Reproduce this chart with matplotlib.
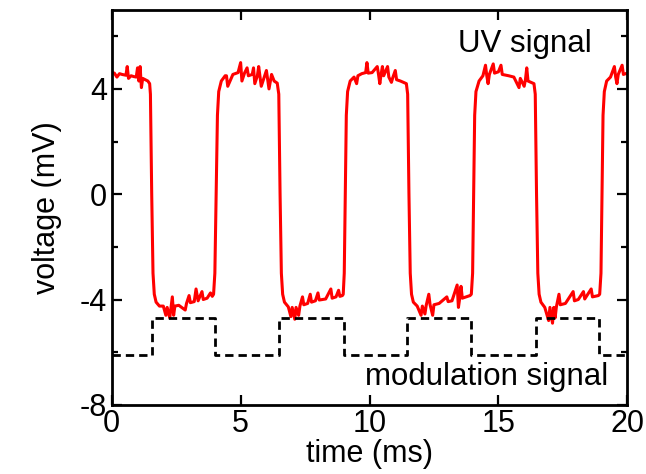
import numpy as np
import matplotlib.pyplot as plt
from matplotlib.ticker import MultipleLocator

plt.rcParams['font.family'] = ['Liberation Sans', 'DejaVu Sans']
plt.rcParams['axes.unicode_minus'] = False

# UV signal (time in ms, voltage in mV)
uv_t = [0, 0.1, 0.2, 0.3, 0.4, 0.55, 0.6, 0.65, 0.75, 0.85, 0.95, 1.0, 1.05, 1.1, 1.15, 1.2, 1.3, 1.4, 1.47,
        1.5, 1.55, 1.6, 1.65, 1.72, 1.85,
        2.0, 2.1, 2.15, 2.25, 2.3, 2.35, 2.4, 2.45, 2.6, 2.85, 2.9, 3.0, 3.05, 3.2, 3.27, 3.35, 3.5, 3.55, 3.7, 3.83, 3.9,
        3.95, 4.0, 4.05, 4.1, 4.15, 4.25, 4.4,
        4.45, 4.5, 4.7, 4.9, 5.0, 5.05, 5.15, 5.25, 5.3, 5.45, 5.5, 5.55, 5.65, 5.7, 5.8, 5.9, 6.0, 6.1, 6.2, 6.3, 6.42,
        6.48, 6.53, 6.58, 6.63, 6.7, 6.85,
        6.95, 7.0, 7.1, 7.15, 7.25, 7.3, 7.4, 7.45, 7.6, 7.7, 7.75, 7.9, 8.0, 8.05, 8.3, 8.5, 8.55, 8.7, 8.8, 8.85, 8.95,
        8.98, 9.02, 9.06, 9.1, 9.15, 9.25, 9.4,
        9.5, 9.55, 9.7, 9.85, 9.9, 9.95, 10.1, 10.3, 10.35, 10.4, 10.45, 10.5, 10.55, 10.7, 10.75, 10.85, 10.9, 11.0, 11.05, 11.2, 11.43,
        11.48, 11.53, 11.58, 11.63, 11.7, 11.85,
        12.0, 12.05, 12.15, 12.2, 12.3, 12.35, 12.45, 12.5, 12.7, 13.0, 13.05, 13.2, 13.4, 13.45, 13.5, 13.55, 13.6, 13.75, 13.9,
        13.95, 14.0, 14.04, 14.08, 14.13, 14.25, 14.4,
        14.5, 14.55, 14.6, 14.65, 14.8, 14.85, 15.0, 15.1, 15.15, 15.4, 15.6, 15.8, 15.85, 16.0, 16.05, 16.1, 16.15, 16.38,
        16.43, 16.48, 16.53, 16.58, 16.65, 16.8,
        16.95, 17.0, 17.1, 17.15, 17.2, 17.25, 17.35, 17.4, 17.6, 17.9, 17.95, 18.1, 18.3, 18.35, 18.6, 18.65, 18.88,
        18.93, 18.98, 19.02, 19.06, 19.11, 19.2, 19.35,
        19.5, 19.55, 19.6, 19.65, 19.8, 19.85, 20.0]
uv_v = [4.62, 4.6, 4.45, 4.58, 4.55, 4.52, 4.85, 4.4, 4.5, 4.47, 4.45, 4.8, 4.3, 4.85, 4.05, 4.4, 4.35, 4.3, 4.2,
        3.8, 0.0, -3.0, -3.8, -4.1, -4.25,
        -4.25, -4.6, -4.3, -4.7, -4.3, -3.9, -4.6, -4.25, -4.22, -4.4, -4.15, -3.85, -4.12, -4.08, -3.6, -4.05, -3.7, -4.0, -3.95, -3.75, -3.88,
        -3.8, -3.0, 0.0, 3.0, 3.9, 4.3, 4.5,
        4.5, 4.1, 4.55, 4.62, 5.0, 4.3, 4.6, 4.8, 4.5, 4.55, 4.8, 4.2, 4.5, 4.85, 4.1, 4.4, 4.7, 4.0, 4.55, 4.3, 4.22,
        3.8, 0.0, -3.0, -3.8, -4.1, -4.28,
        -4.65, -4.3, -4.75, -4.3, -4.6, -4.25, -3.9, -4.2, -4.15, -3.8, -4.1, -4.05, -3.75, -4.02, -3.98, -3.6, -3.95, -3.9, -3.65, -3.88, -3.85,
        -3.8, -3.0, 0.0, 3.0, 3.9, 4.3, 4.45,
        4.2, 4.5, 4.58, 4.62, 5.0, 4.6, 4.62, 4.85, 4.55, 4.2, 4.55, 4.85, 4.5, 4.85, 4.45, 4.25, 4.42, 4.7, 4.35, 4.3, 4.2,
        3.8, 0.0, -3.0, -3.8, -4.1, -4.25,
        -4.6, -4.25, -4.55, -4.22, -3.8, -4.2, -4.6, -4.2, -4.15, -3.9, -4.08, -4.05, -3.45, -4.3, -3.95, -3.5, -3.95, -3.9, -3.85,
        -3.8, -3.0, 0.0, 3.0, 3.9, 4.3, 4.5,
        4.9, 4.5, 4.2, 4.55, 4.95, 4.6, 4.65, 4.9, 4.55, 4.5, 4.45, 4.05, 4.4, 4.1, 4.35, 4.8, 4.3, 4.2,
        3.8, 0.0, -3.0, -3.8, -4.1, -4.3,
        -4.8, -4.3, -4.9, -4.3, -4.7, -4.28, -3.8, -4.2, -4.15, -3.7, -4.05, -4.0, -3.7, -3.98, -3.6, -3.9, -3.85,
        -3.8, -3.0, 0.0, 3.0, 3.9, 4.3, 4.45,
        4.85, 4.45, 4.2, 4.55, 4.9, 4.55, 4.6]

# modulation signal (dashed square wave)
mod_edges = [1.55, 4.0, 6.5, 9.0, 11.45, 13.95, 16.45, 18.9]
mod_low = -6.1
mod_high = -4.7

mod_t = [0]
mod_v = [mod_low]
level = mod_low
for e in mod_edges:
    mod_t += [e, e]
    nxt = mod_high if level == mod_low else mod_low
    mod_v += [level, nxt]
    level = nxt
mod_t.append(20)
mod_v.append(level)

fig = plt.figure(figsize=(6.46, 4.74), dpi=100)
ax = fig.add_axes([0.173, 0.146, 0.798, 0.833])

ax.plot(uv_t, uv_v, color='#ff0000', lw=2.2)
ax.plot(mod_t, mod_v, color='black', lw=2.0, ls=(0, (3.0, 1.8)))

ax.set_xlim(0, 20)
ax.set_ylim(-8, 7)
ax.xaxis.set_major_locator(MultipleLocator(5))
ax.yaxis.set_major_locator(MultipleLocator(4))
ax.yaxis.set_minor_locator(MultipleLocator(2))

ax.tick_params(which='both', direction='in', top=True, right=True, labelsize=22, width=1.6)
ax.tick_params(which='major', length=7)
ax.tick_params(which='minor', length=4)
ax.tick_params(axis='x', pad=3)
for s in ax.spines.values():
    s.set_linewidth(2.0)

ax.set_xlabel('time (ms)', fontsize=22, labelpad=0)
ax.set_ylabel('voltage (mV)', fontsize=22, labelpad=13)

ax.text(0.932, 0.915, 'UV signal', transform=ax.transAxes, fontsize=22.5, ha='right', va='center')
ax.text(0.963, 0.07, 'modulation signal', transform=ax.transAxes, fontsize=22.5, ha='right', va='center')

fig.savefig('out.png', dpi=100)
